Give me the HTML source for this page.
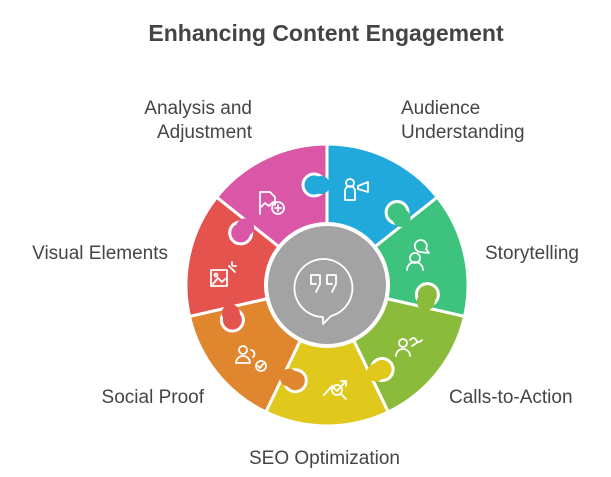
<!DOCTYPE html>
<html><head><meta charset="utf-8"><style>
body{margin:0;width:611px;height:477px;background:#fff;overflow:hidden;position:relative;font-family:"Liberation Sans",sans-serif;color:#454545}
.t{position:absolute;font-size:19px;line-height:24px;white-space:nowrap}
.r{text-align:right}
</style></head><body>
<div class="t" style="left:0;width:652px;top:19px;text-align:center;font-size:23px;line-height:28px;font-weight:bold;color:#444">Enhancing Content Engagement</div>
<div class="t r" style="right:359px;top:97px">Analysis and<br>Adjustment</div>
<div class="t" style="left:401px;top:97px">Audience<br>Understanding</div>
<div class="t" style="left:485px;top:242px">Storytelling</div>
<div class="t r" style="right:443px;top:242px">Visual Elements</div>
<div class="t" style="left:449px;top:386px">Calls-to-Action</div>
<div class="t r" style="right:407px;top:386px">Social Proof</div>
<div class="t" style="left:249px;top:447px">SEO Optimization</div>
<svg width="611" height="477" style="position:absolute;left:0;top:0">
<g stroke="#fff" stroke-width="3" stroke-linejoin="round">
<path d="M327 285 L327 144 A141 141 0 0 1 437.3 197.2Z" fill="#22a9dc"/>
<path d="M327 285 L437.3 197.2 A141 141 0 0 1 464.5 316.4Z" fill="#3ec37e"/>
<path d="M327 285 L464.5 316.4 A141 141 0 0 1 388.2 412Z" fill="#8bbb3a"/>
<path d="M327 285 L388.2 412 A141 141 0 0 1 265.8 412Z" fill="#e0c81d"/>
<path d="M327 285 L265.8 412 A141 141 0 0 1 189.5 316.4Z" fill="#e0862f"/>
<path d="M327 285 L189.5 316.4 A141 141 0 0 1 216.7 197.2Z" fill="#e5534f"/>
<path d="M327 285 L216.7 197.2 A141 141 0 0 1 327 144Z" fill="#d957a6"/>
<circle cx="314" cy="185" r="11" fill="#22a9dc"/>
<circle cx="397.1" cy="212.5" r="11" fill="#3ec37e"/>
<circle cx="427.4" cy="294.6" r="11" fill="#8bbb3a"/>
<circle cx="382.1" cy="369.5" r="11" fill="#e0c81d"/>
<circle cx="295.3" cy="380.7" r="11" fill="#e0862f"/>
<circle cx="232.4" cy="320" r="11" fill="#e5534f"/>
<circle cx="240.7" cy="232.9" r="11" fill="#d957a6"/>
</g>
<circle cx="321" cy="185" r="9" fill="#22a9dc"/>
<circle cx="401.5" cy="218" r="9" fill="#3ec37e"/>
<circle cx="425.8" cy="301.5" r="9" fill="#8bbb3a"/>
<circle cx="375.8" cy="372.5" r="9" fill="#e0c81d"/>
<circle cx="289" cy="377.7" r="9" fill="#e0862f"/>
<circle cx="230.8" cy="313.2" r="9" fill="#e5534f"/>
<circle cx="245.1" cy="227.4" r="9" fill="#d957a6"/>
<circle cx="327" cy="285" r="63" fill="#fff"/>
<circle cx="327" cy="285" r="59" fill="#a3a3a3"/>
<g fill="none" stroke="#fff" stroke-width="1.8" stroke-linecap="round" stroke-linejoin="round">
<path d="M323 317 A29 29 0 1 1 331 316 L323 324 Z"/>
<path d="M311 275 h9 v9 l-4 8 M311 275 v9 h5"/>
<path d="M327 275 h9 v9 l-4 8 M327 275 v9 h5"/>
<circle cx="350" cy="183" r="4"/><path d="M345 200 v-9 a5 5 0 0 1 10 0 v9 z M358 186 l10-4 v10 l-10-3z"/>
<circle cx="415" cy="258" r="5"/><path d="M407 270 a8 8 0 0 1 16 0 M420 252 a6 6 0 1 1 6 -3 l3 4 z"/>
<circle cx="403" cy="343" r="4"/><path d="M396 356 a7 7 0 0 1 14 0 M410 340 q4-4 6 0 t6 0 M412 346 l6-4"/>
<path d="M324 395 l8-9 5 5 9-10 M341 381 h5 v5"/><circle cx="337" cy="390" r="5"/><path d="M341 394 l5 5"/>
<circle cx="243" cy="350" r="4"/><path d="M236 363 a7 7 0 0 1 14 0z M251 350 a4 4 0 0 1 2 7"/><circle cx="261" cy="366" r="5"/><path d="M258 366 l2 2 3-4"/>
<rect x="211" y="270" width="16" height="16"/><path d="M213 284 l5-6 4 4 3-3 M229 266 l6 6 M232 262 v3 M236 266 h-3"/><circle cx="216" cy="275" r="1.5"/>
<path d="M260 214 v-22 h10 l5 5 v8 M260 208 l5-5 4 3 4-4"/><circle cx="278" cy="208" r="6"/><path d="M278 205 v6 M275 208 h6"/>
</g>
</svg>
</body></html>
